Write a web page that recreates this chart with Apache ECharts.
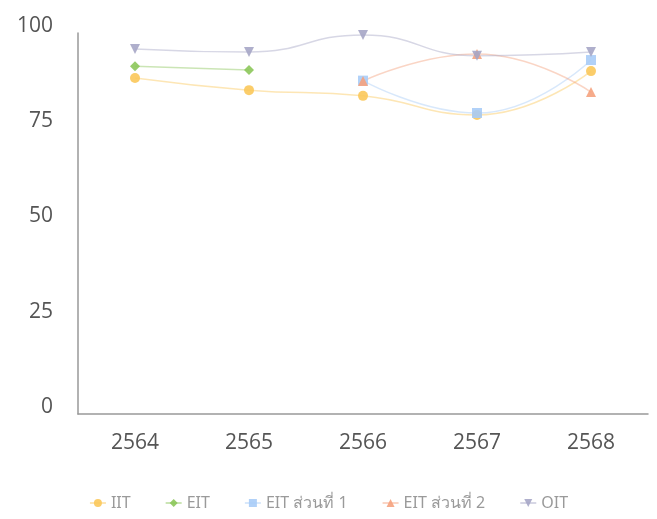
<!DOCTYPE html>
<html><head><meta charset="utf-8">
<script src="https://cdn.jsdelivr.net/npm/echarts@6/dist/echarts.min.js"></script>
<style>html,body{margin:0;padding:0;background:#fff}#c{width:657px;height:519px}</style>
</head><body><div id="c"></div>
<script>
const categories = ['2564','2565','2566','2567','2568'];
const seriesNames = ['IIT','EIT','EIT ส่วนที่ 1','EIT ส่วนที่ 2','OIT'];
const iit  = [88.2, 85.0, 83.5, 78.5, 90.0];
const eit  = [91.3, 90.3, null, null, null];
const eit1 = [null, null, 87.5, 79.0, 92.9];
const eit2 = [null, null, 87.4, 94.5, 84.5];
const oit  = [95.8, 95.0, 99.5, 94.0, 95.0];
const yTicks = [0, 25, 50, 75, 100];

const colors = ['#fbc85a','#8cc65a','#a9ccf7','#f5a27e','#a6a6c6'];
const symbols = ['circle','diamond','rect','triangle','triangle'];
const dataSets = [iit, eit, eit1, eit2, oit];

const chart = echarts.init(document.getElementById('c'));
chart.setOption({
  animation: false,
  color: colors,
  grid: {left: 78, right: 9, top: 33, bottom: 105, containLabel: false},
  legend: {
    bottom: 3, left: 'center',
    itemGap: 34, itemWidth: 16, itemHeight: 10,
    textStyle: {color: '#9a9a9a', fontSize: 16, fontFamily: 'Noto Sans, DejaVu Sans, sans-serif'},
    data: seriesNames
  },
  xAxis: {
    type: 'category', data: categories, boundaryGap: true,
    axisLine: {show: true, lineStyle: {color: '#999', width: 1.5}},
    axisTick: {show: false},
    axisLabel: {color: '#555', fontSize: 21, margin: 19, fontFamily: 'Open Sans, sans-serif'}
  },
  yAxis: {
    type: 'value', min: yTicks[0], max: yTicks[yTicks.length-1], interval: 25,
    axisLine: {show: true, lineStyle: {color: '#999', width: 1.5}},
    axisTick: {show: false},
    splitLine: {show: false},
    axisLabel: {color: '#555', fontSize: 21, margin: 25, verticalAlign: 'bottom', lineHeight: 14,
      fontFamily: 'Open Sans, sans-serif',
      formatter: v => yTicks.includes(v) ? String(v) : ''}
  },
  series: dataSets.map((d, i) => ({
    name: seriesNames[i], type: 'line', data: d, smooth: true,
    symbol: symbols[i], symbolSize: 10,
    symbolRotate: i === 4 ? 180 : 0,
    connectNulls: false,
    lineStyle: {width: 1.5, opacity: 0.45, color: colors[i]},
    itemStyle: {color: colors[i], opacity: 0.9}
  }))
});
</script></body></html>
